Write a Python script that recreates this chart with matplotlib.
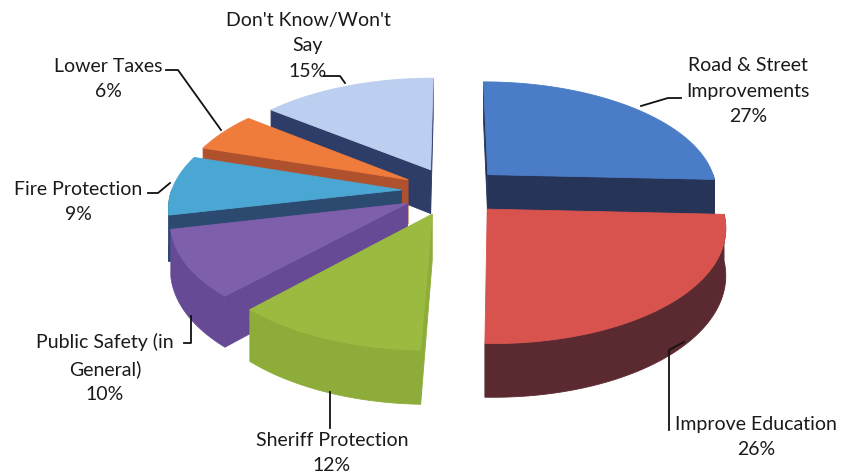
import numpy as np
import matplotlib.pyplot as plt
from matplotlib.patches import Polygon

# Data
labels = ["Road & Street\nImprovements", "Improve Education", "Sheriff Protection",
          "Public Safety (in\nGeneral)", "Fire Protection", "Lower Taxes",
          "Don't Know/Won't\nSay"]
values = [27, 26, 12, 10, 9, 6, 15]
top_colors = ["#4a7cc8", "#d8534e", "#9bbb40", "#7e5fab", "#4aa6d2", "#f07c3c", "#bccff0"]
side_colors = ["#263458", "#5b2a30", "#8dac3a", "#664a96", "#2c4a70", "#b0512e", "#2e3c68"]

# label positions (pixels) and leader lines
label_pos = [(748, 91), (756, 437), (332, 453), (105, 368), (78, 202), (108, 79), (308, 46)]
leaders = [
    [(641, 106), (668, 98), (681, 98)],
    [(684, 342), (669, 350), (669, 430)],
    [(330, 392), (330, 428)],
    [(184, 343), (191, 343), (191, 316)],
    [(148, 193), (158, 193), (170, 183)],
    [(166, 70), (178, 70), (221, 130)],
    [(324, 76), (340, 76), (345, 83)],
]

# 3D pie projection parameters
cx, cy = 452, 191
R, RY, DEPTH = 230, 110, 45
P = 0.14
EXPLODE = 0.22


def project(x, y, z):
    s = 1.0 / (1.0 + P * y)
    return cx + R * x * s, cy + (-RY * y + DEPTH * z) * s


def area(pts):
    pts = np.asarray(pts)
    u, v = pts[:, 0], pts[:, 1]
    return 0.5 * np.sum(u * np.roll(v, -1) - np.roll(u, -1) * v)


fig = plt.figure(figsize=(8.42, 4.75), dpi=100)
ax = fig.add_axes([0, 0, 1, 1])
ax.set_xlim(0, 842)
ax.set_ylim(475, 0)
ax.axis('off')

vals = np.array(values, dtype=float)
bounds = np.concatenate([[0], np.cumsum(vals) / vals.sum() * 360])

sides = []  # (depth key, polygon, color)
tops = []
for i in range(len(values)):
    a1, a2 = bounds[i], bounds[i + 1]
    mid = np.radians((a1 + a2) / 2)
    ox, oy = EXPLODE * np.sin(mid), EXPLODE * np.cos(mid)

    def rim(t, z):
        return project(ox + np.sin(t), oy + np.cos(t), z)

    t = np.radians(np.linspace(a1, a2, 80))
    apex_t = project(ox, oy, 0)
    apex_b = project(ox, oy, 1)
    top = [apex_t] + [rim(tt, 0) for tt in t]
    tops.append((top, top_colors[i]))

    # outer curved side (front half)
    lo, hi = max(a1, 90), min(a2, 270)
    if hi > lo:
        ts = np.radians(np.linspace(lo, hi, 60))
        band = [rim(tt, 0) for tt in ts] + [rim(tt, 1) for tt in ts[::-1]]
        key = np.mean(oy + np.cos(ts))
        sides.append((key, band, side_colors[i]))

    # radial walls
    ta, tb = np.radians(a1), np.radians(a2)
    start = [apex_t, apex_b, rim(ta, 1), rim(ta, 0)]
    end = [apex_t, rim(tb, 0), rim(tb, 1), apex_b]
    for wall, ang in ((start, ta), (end, tb)):
        if area(wall) > 0:
            key = oy + 0.5 * np.cos(ang)
            sides.append((key, wall, side_colors[i]))

sides.sort(key=lambda s: -s[0])
z = 1
for key, poly, col in sides:
    ax.add_patch(Polygon(poly, closed=True, facecolor=col, edgecolor=col, lw=0.6, zorder=z))
    z += 1
for poly, col in tops:
    ax.add_patch(Polygon(poly, closed=True, facecolor=col, edgecolor=col, lw=0.6, zorder=z))
    z += 1

# labels
for lab, v, (x, y), line in zip(labels, values, label_pos, leaders):
    ax.text(x, y, f"{lab}\n{v}%", ha='center', va='center', fontsize=14,
            family='Lato', color='#1a1a1a', linespacing=1.6, zorder=z + 1)
    xs, ys = zip(*line)
    ax.plot(xs, ys, color='#111111', lw=1.3, zorder=z + 1)

fig.savefig("out.png", dpi=100)
